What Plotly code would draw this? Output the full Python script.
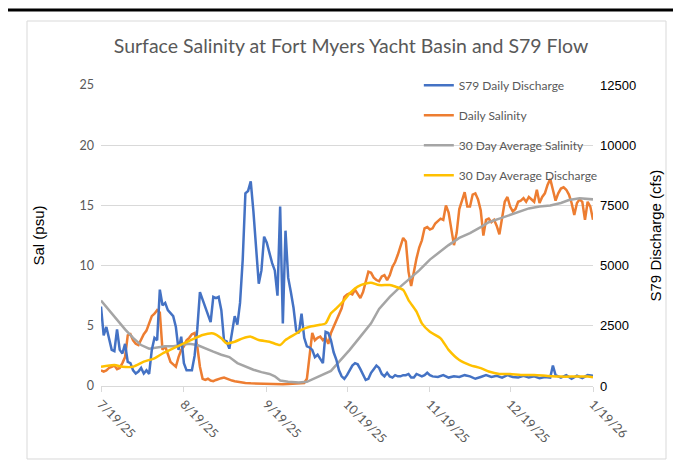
import pandas as pd
import plotly.graph_objects as go

start_date = "2025-07-19"
end_date = "2026-01-19"

# S79 daily discharge (cfs)
discharge_days = list(range(0, 125)) + [126, 128, 130, 132, 134, 136, 138, 140, 142, 144, 146, 148, 150, 152,
                                        154, 156, 158, 160, 162, 164, 166, 168, 169, 170, 172, 174, 176, 178,
                                        180, 182, 184]
discharge_cfs = [3300, 2100, 2450, 1950, 1500, 1450, 2350, 1500, 1350, 1750,
                 1000, 950, 650, 520, 600, 750, 520, 650, 500, 1500,
                 2000, 1900, 4000, 3350, 3450, 3150, 3000, 2900, 2450, 1500,
                 2050, 950, 650, 650, 650, 1250, 2350, 3900, 3600, 3300,
                 3000, 2650, 3700, 3650, 3700, 3150, 1900, 1850, 1550, 2200,
                 2900, 2550, 3450, 5250, 8000, 8100, 8500, 7250, 5650, 4250,
                 4800, 6200, 5950, 5500, 5100, 4800, 3750, 7450, 2600, 6450,
                 4500, 3900, 3250, 2300, 2200, 3000, 2000, 1650, 1600, 1500,
                 1200, 1300, 1100, 950, 2250, 2200, 1900, 1400, 1100, 650,
                 400, 300, 450, 650, 850, 950, 900, 700, 450, 250,
                 300, 550, 700, 850, 750, 500, 400, 550, 400, 350,
                 450, 400, 400, 450, 450, 500, 350, 350, 500, 450,
                 400, 450, 550, 450, 400,
                 375, 450, 350, 400, 375, 450, 400, 300, 375, 450, 375, 425, 350, 450,
                 375, 350, 425, 350, 400, 325, 375, 350, 850, 450, 350, 450, 300, 425,
                 325, 450, 425]

# Daily salinity (psu)
salinity_days = list(range(0, 55)) + [56, 58, 60, 62, 64, 66, 68, 70, 72, 74] + list(range(76, 185))
salinity_psu = [1.3, 1.2, 1.3, 1.5, 1.6, 1.7, 1.4, 1.5, 1.9, 2.4,
                4.2, 4.3, 3.8, 3.5, 3.4, 3.9, 4.3, 4.6, 5.2, 5.8,
                6.0, 6.3, 6.1, 3.0, 3.3, 2.6, 2.0, 1.8, 1.6, 2.4,
                3.0, 3.3, 3.8, 4.0, 4.3, 4.4, 3.3, 1.6, 0.6, 0.5,
                0.6, 0.45, 0.4, 0.5, 0.6, 0.65, 0.7, 0.6, 0.55, 0.45,
                0.4, 0.35, 0.3, 0.28, 0.25,
                0.22, 0.2, 0.2, 0.17, 0.17, 0.18, 0.15, 0.17, 0.2, 0.2,
                0.25, 0.6, 2.4, 4.4, 3.8, 4.0, 4.1, 3.8, 4.0, 3.5,
                4.4, 4.9, 5.4, 5.8, 6.45, 7.4, 7.6, 7.7, 7.6, 8.0,
                7.7, 7.3, 7.8, 8.6, 9.5, 9.4, 9.0, 8.8, 8.7, 9.1,
                9.2, 8.8, 9.2, 9.9, 10.3, 10.9, 11.7, 12.3, 12.0, 9.5,
                8.3, 9.6, 10.6, 11.5, 12.1, 13.1, 13.2, 13.0, 13.1, 13.5,
                13.7, 13.9, 13.8, 15.0, 14.4, 13.2, 11.7, 12.7, 14.7, 15.4,
                16.1, 14.9, 14.9, 15.9, 16.0, 15.5, 14.6, 12.5, 13.8, 13.9,
                13.6, 13.8, 13.3, 12.6, 14.0, 15.3, 15.7, 14.9, 14.5, 14.7,
                15.3, 15.4, 15.6, 15.3, 15.7, 15.5, 15.3, 16.3, 15.2, 15.7,
                16.0, 16.7, 17.2, 16.3, 15.4, 16.0, 16.4, 16.5, 16.3, 15.9,
                15.2, 14.2, 15.2, 15.5, 15.3, 13.8, 15.3, 14.9, 13.8]

# 30 day average salinity (psu)
avg_sal_days = [0, 3, 6, 9, 12, 15, 18, 21, 24, 27, 30, 33, 36, 39, 42, 45, 48, 51, 54, 57,
                60, 63, 65, 67, 70, 74, 77, 79, 82, 86, 89, 93, 97, 101, 104, 108, 112, 115,
                119, 123, 127, 130, 134, 138, 142, 145, 149, 153, 157, 160, 164, 168, 172,
                175, 179, 184]
avg_sal_psu = [7.1, 6.3, 5.5, 4.7, 4.0, 3.4, 3.1, 3.2, 3.3, 3.3, 3.4, 3.5, 3.4, 3.1, 2.85,
               2.6, 2.4, 1.9, 1.6, 1.35, 1.15, 1.0, 0.8, 0.45, 0.35, 0.3, 0.35, 0.55, 0.9,
               1.25, 2.0, 3.0, 4.1, 5.2, 6.4, 7.4, 8.25, 8.8, 9.6, 10.5, 11.2, 11.7, 12.3,
               12.7, 13.2, 13.6, 13.9, 14.2, 14.5, 14.75, 14.9, 15.0, 15.2, 15.45, 15.6, 15.5]

# 30 day average discharge (cfs)
avg_dis_days = [0, 5, 8, 12, 16, 20, 23, 27, 31, 35, 38, 42, 45, 47, 50, 53, 56, 59, 63, 67,
                69, 73, 75, 78, 82, 84, 86, 88, 91, 93, 96, 99, 101, 104, 108, 110, 113, 115,
                118, 120, 123, 127, 130, 134, 138, 142, 145, 149, 153, 157, 162, 167, 172,
                177, 182, 184]
avg_dis_cfs = [800, 870, 800, 800, 1010, 1150, 1350, 1560, 1770, 1980, 2120, 2180, 1980,
               1770, 1840, 1980, 2050, 1910, 1840, 1700, 1910, 2180, 2330, 2460, 2540, 2600,
               3020, 3220, 3570, 3850, 4130, 4260, 4290, 4190, 4190, 4130, 3990, 3570, 3090,
               2600, 2250, 1980, 1500, 1080, 870, 740, 600, 500, 500, 460, 460, 420, 390,
               390, 390, 360]


def to_dates(days):
    return pd.Timestamp(start_date) + pd.to_timedelta(days, unit="D")


GRAY_TXT = "#595959"
CAL = "Lato, Carlito, sans-serif"
ARIAL = "Liberation Sans, Arial, sans-serif"

fig = go.Figure()
fig.add_trace(go.Scatter(x=to_dates(salinity_days), y=salinity_psu, name="Daily Salinity",
                         mode="lines", line=dict(color="#ED7D31", width=2.5),
                         legendgroup="b", legendrank=2, yaxis="y"))
fig.add_trace(go.Scatter(x=to_dates(avg_sal_days), y=avg_sal_psu, name="30 Day Average Salinity",
                         mode="lines", line=dict(color="#A5A5A5", width=2.5),
                         legendgroup="c", legendrank=3, yaxis="y"))
fig.add_trace(go.Scatter(x=to_dates(discharge_days), y=discharge_cfs, name="S79 Daily Discharge",
                         mode="lines", line=dict(color="#4472C4", width=2.5),
                         legendgroup="a", legendrank=1, yaxis="y2"))
fig.add_trace(go.Scatter(x=to_dates(avg_dis_days), y=avg_dis_cfs, name="30 Day Average Discharge",
                         mode="lines", line=dict(color="#FFC000", width=2.5, shape="spline", smoothing=0.6),
                         legendgroup="d", legendrank=4, yaxis="y2"))

fig.update_layout(
    width=673, height=458,
    margin=dict(l=93, r=88, t=77, b=80),
    paper_bgcolor="white", plot_bgcolor="white",
    title=dict(text="Surface Salinity at Fort Myers Yacht Basin and S79 Flow",
               x=0.5097, xanchor="center", y=0.917, yanchor="middle",
               font=dict(family=CAL, size=19.5, color=GRAY_TXT)),
    xaxis=dict(type="date", range=[start_date, end_date], tick0=start_date, dtick="M1",
               tickformat="%-m/%-d/%y", tickangle=45, showgrid=False,
               showline=True, linecolor="#d9d9d9", linewidth=1,
               ticks="outside", tickcolor="#d9d9d9", ticklen=5,
               tickfont=dict(family=CAL, size=12.5, color=GRAY_TXT)),
    yaxis=dict(range=[0, 25], dtick=5, showgrid=True, gridcolor="#d9d9d9", gridwidth=1,
               zeroline=False, showline=False, ticks="", ticklabelstandoff=6,
               tickfont=dict(family=CAL, size=12.5, color=GRAY_TXT)),
    yaxis2=dict(range=[0, 12500], dtick=2500, overlaying="y", side="right", showgrid=False,
                zeroline=False, showline=False, ticks="", tickformat="d", ticklabelstandoff=6,
                tickfont=dict(family=ARIAL, size=13, color="black")),
    legend=dict(x=0.646, xanchor="left", y=1.047, yanchor="top", bgcolor="rgba(0,0,0,0)",
                font=dict(family=CAL, size=12, color=GRAY_TXT), tracegroupgap=11,
                traceorder="grouped"),
    annotations=[
        dict(text="Sal (psu)", xref="paper", yref="paper", x=-0.128, y=0.5, textangle=-90,
             showarrow=False, xanchor="center", yanchor="middle",
             font=dict(family=ARIAL, size=15, color="black")),
        dict(text="S79 Discharge (cfs)", xref="paper", yref="paper", x=1.128, y=0.5, textangle=-90,
             showarrow=False, xanchor="center", yanchor="middle",
             font=dict(family=ARIAL, size=15, color="black")),
    ],
    shapes=[
        dict(type="rect", xref="paper", yref="paper", x0=-0.1504, x1=1.1484, y0=-0.2425, y1=1.2126,
             line=dict(color="#d9d9d9", width=1), fillcolor="rgba(0,0,0,0)", layer="below"),
        dict(type="line", xref="paper", yref="paper", x0=-0.1931, x1=-0.1931, y0=-0.3, y1=1.2492,
             line=dict(color="black", width=3)),
        dict(type="line", xref="paper", yref="paper", x0=-0.1931, x1=1.2, y0=1.2492, y1=1.2492,
             line=dict(color="black", width=3)),
    ],
)

fig.write_html("out.html")
